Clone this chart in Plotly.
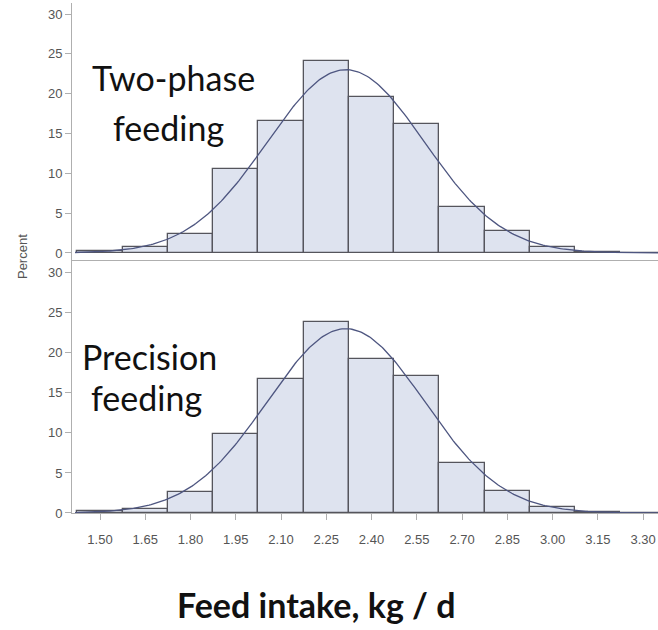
import numpy as np
import plotly.graph_objects as go

# ---- data ----
bin_centers = [1.50, 1.65, 1.80, 1.95, 2.10, 2.25, 2.40, 2.55, 2.70, 2.85, 3.00, 3.15, 3.30]
tick_labels = ["1.50", "1.65", "1.80", "1.95", "2.10", "2.25", "2.40", "2.55", "2.70", "2.85", "3.00", "3.15", "3.30"]
two_phase_pct = [0.2, 0.7, 2.35, 10.5, 16.6, 24.1, 19.6, 16.2, 5.8, 2.7, 0.7, 0.1, 0.0]
precision_pct = [0.2, 0.5, 2.6, 9.9, 16.75, 23.8, 19.25, 17.1, 6.3, 2.8, 0.75, 0.1, 0.0]
bin_width = 0.15
# fitted normal densities (mean, sd)
two_phase_fit = (2.315, 0.26)
precision_fit = (2.315, 0.26)

X_RANGE = [1.4072, 3.3495]

def normal_curve(mu, sd):
    xs = np.linspace(X_RANGE[0] + 0.01, X_RANGE[1], 300)
    ys = 100 * bin_width * np.exp(-0.5 * ((xs - mu) / sd) ** 2) / (sd * np.sqrt(2 * np.pi))
    return xs, ys

BAR_FILL = "rgb(222,227,239)"
BAR_LINE = "rgb(85,85,92)"
CURVE = "rgb(78,86,128)"
AXIS_LINE = "rgb(175,175,175)"
TICK_FONT = dict(family="Liberation Sans, Arial, sans-serif", size=13, color="#555")

fig = go.Figure()

# top panel: two-phase feeding
fig.add_trace(go.Bar(x=bin_centers, y=two_phase_pct, width=bin_width,
                     marker=dict(color=BAR_FILL, line=dict(color=BAR_LINE, width=1.3)),
                     xaxis="x2", yaxis="y2", showlegend=False))
cx, cy = normal_curve(*two_phase_fit)
fig.add_trace(go.Scatter(x=cx, y=cy, mode="lines", line=dict(color=CURVE, width=1.3),
                         xaxis="x2", yaxis="y2", showlegend=False))

# bottom panel: precision feeding
fig.add_trace(go.Bar(x=bin_centers, y=precision_pct, width=bin_width,
                     marker=dict(color=BAR_FILL, line=dict(color=BAR_LINE, width=1.3)),
                     xaxis="x", yaxis="y", showlegend=False))
cx, cy = normal_curve(*precision_fit)
fig.add_trace(go.Scatter(x=cx, y=cy, mode="lines", line=dict(color=CURVE, width=1.3),
                         xaxis="x", yaxis="y", showlegend=False))

ytick = dict(tickvals=[0, 5, 10, 15, 20, 25, 30], ticks="outside", ticklen=6,
             tickcolor=AXIS_LINE, showline=True, linecolor=AXIS_LINE, linewidth=1,
             showgrid=False, zeroline=False, tickfont=TICK_FONT)

fig.update_layout(
    width=658, height=630,
    margin=dict(l=72, r=0, t=0, b=117),
    paper_bgcolor="white", plot_bgcolor="white",
    bargap=0,
    xaxis=dict(range=X_RANGE, domain=[0, 1], anchor="y", tickvals=bin_centers, ticktext=tick_labels,
               ticks="outside", ticklen=6, ticklabelstandoff=8, tickcolor=AXIS_LINE, showline=True,
               linecolor=AXIS_LINE, showgrid=False, zeroline=False, tickfont=TICK_FONT),
    xaxis2=dict(range=X_RANGE, domain=[0, 1], anchor="y2", matches="x", showticklabels=False,
                ticks="", showline=True, linecolor=AXIS_LINE, showgrid=False, zeroline=False),
    yaxis=dict(domain=[0, 0.4932], range=[0, 31.6], **ytick),
    yaxis2=dict(domain=[0.4932, 0.994], range=[-0.879, 31.38], **ytick),
)

TEXT_FONT = dict(family="Lato, Carlito, Calibri, sans-serif", size=34, color="#111")
labels = [
    ("Two-phase", 0.1724, 0.848),
    ("feeding", 0.1655, 0.7524),
    ("Precision", 0.1331, 0.306),
    ("feeding", 0.1263, 0.2242),
]
for txt, ax_, ay_ in labels:
    fig.add_annotation(text=txt, x=ax_, y=ay_, xref="paper", yref="paper",
                       xanchor="center", yanchor="middle", showarrow=False, font=TEXT_FONT)

fig.add_annotation(text="Percent", x=-0.0853, y=0.499, xref="paper", yref="paper",
                   xanchor="center", yanchor="middle", textangle=-90, showarrow=False,
                   font=dict(family="Liberation Sans, Arial, sans-serif", size=13, color="#555"))

fig.add_annotation(text="<b>Feed intake, kg / d</b>", x=0.4164, y=-0.1774, xref="paper", yref="paper",
                   xanchor="center", yanchor="middle", showarrow=False,
                   font=dict(family="Lato, Carlito, Calibri, sans-serif", size=34, color="#111"))

fig.write_html("out.html")
